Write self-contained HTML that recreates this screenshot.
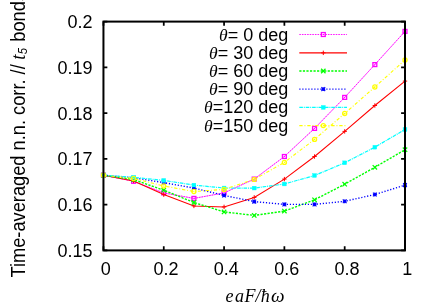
<!DOCTYPE html>
<html><head><meta charset="utf-8"><title>plot</title>
<style>html,body{margin:0;padding:0;background:#fff;overflow:hidden}svg{display:block;will-change:transform}text{font-family:"Liberation Sans",sans-serif;fill:#000}.sit{font-style:italic}.it{font-family:"Liberation Serif",serif;font-style:italic}</style></head><body>
<svg width="436" height="305" viewBox="0 0 436 305">
<rect width="436" height="305" fill="#fff"/>
<polyline points="103.45,175.20 133.61,181.30 163.76,192.90 193.92,198.40 224.07,192.90 254.23,179.10 284.38,156.50 314.54,128.40 344.69,97.40 374.85,64.60 405.00,31.40" fill="none" stroke="#ff00ff" stroke-width="0.9" stroke-opacity="0.4"/>
<polyline points="103.45,175.20 133.61,181.30 163.76,192.90 193.92,198.40 224.07,192.90 254.23,179.10 284.38,156.50 314.54,128.40 344.69,97.40 374.85,64.60 405.00,31.40" fill="none" stroke="#ff00ff" stroke-width="0.9" stroke-dasharray="1.6 1.0"/>
<rect x="101.50" y="173.25" width="3.9" height="3.9" fill="none" stroke="#ff00ff" stroke-width="1.3"/><rect x="102.95" y="174.70" width="1" height="1" fill="#ff00ff"/>
<rect x="131.66" y="179.35" width="3.9" height="3.9" fill="none" stroke="#ff00ff" stroke-width="1.3"/><rect x="133.11" y="180.80" width="1" height="1" fill="#ff00ff"/>
<rect x="161.81" y="190.95" width="3.9" height="3.9" fill="none" stroke="#ff00ff" stroke-width="1.3"/><rect x="163.26" y="192.40" width="1" height="1" fill="#ff00ff"/>
<rect x="191.97" y="196.45" width="3.9" height="3.9" fill="none" stroke="#ff00ff" stroke-width="1.3"/><rect x="193.42" y="197.90" width="1" height="1" fill="#ff00ff"/>
<rect x="222.12" y="190.95" width="3.9" height="3.9" fill="none" stroke="#ff00ff" stroke-width="1.3"/><rect x="223.57" y="192.40" width="1" height="1" fill="#ff00ff"/>
<rect x="252.28" y="177.15" width="3.9" height="3.9" fill="none" stroke="#ff00ff" stroke-width="1.3"/><rect x="253.73" y="178.60" width="1" height="1" fill="#ff00ff"/>
<rect x="282.43" y="154.55" width="3.9" height="3.9" fill="none" stroke="#ff00ff" stroke-width="1.3"/><rect x="283.88" y="156.00" width="1" height="1" fill="#ff00ff"/>
<rect x="312.59" y="126.45" width="3.9" height="3.9" fill="none" stroke="#ff00ff" stroke-width="1.3"/><rect x="314.04" y="127.90" width="1" height="1" fill="#ff00ff"/>
<rect x="342.74" y="95.45" width="3.9" height="3.9" fill="none" stroke="#ff00ff" stroke-width="1.3"/><rect x="344.19" y="96.90" width="1" height="1" fill="#ff00ff"/>
<rect x="372.90" y="62.65" width="3.9" height="3.9" fill="none" stroke="#ff00ff" stroke-width="1.3"/><rect x="374.35" y="64.10" width="1" height="1" fill="#ff00ff"/>
<rect x="403.05" y="29.45" width="3.9" height="3.9" fill="none" stroke="#ff00ff" stroke-width="1.3"/><rect x="404.50" y="30.90" width="1" height="1" fill="#ff00ff"/>
<polyline points="103.45,175.20 133.61,181.00 163.76,194.60 193.92,205.90 224.07,206.90 254.23,197.40 284.38,179.10 314.54,156.50 344.69,131.40 374.85,105.50 405.00,81.10" fill="none" stroke="#ff0000" stroke-width="1.05"/>
<path d="M101.25 175.20H105.65M103.45 173.00V177.40" stroke="#ff0000" stroke-width="1" fill="none"/>
<path d="M131.41 181.00H135.81M133.61 178.80V183.20" stroke="#ff0000" stroke-width="1" fill="none"/>
<path d="M161.56 194.60H165.96M163.76 192.40V196.80" stroke="#ff0000" stroke-width="1" fill="none"/>
<path d="M191.72 205.90H196.12M193.92 203.70V208.10" stroke="#ff0000" stroke-width="1" fill="none"/>
<path d="M221.87 206.90H226.27M224.07 204.70V209.10" stroke="#ff0000" stroke-width="1" fill="none"/>
<path d="M252.03 197.40H256.43M254.23 195.20V199.60" stroke="#ff0000" stroke-width="1" fill="none"/>
<path d="M282.18 179.10H286.58M284.38 176.90V181.30" stroke="#ff0000" stroke-width="1" fill="none"/>
<path d="M312.34 156.50H316.74M314.54 154.30V158.70" stroke="#ff0000" stroke-width="1" fill="none"/>
<path d="M342.49 131.40H346.89M344.69 129.20V133.60" stroke="#ff0000" stroke-width="1" fill="none"/>
<path d="M372.65 105.50H377.05M374.85 103.30V107.70" stroke="#ff0000" stroke-width="1" fill="none"/>
<path d="M402.80 81.10H407.20M405.00 78.90V83.30" stroke="#ff0000" stroke-width="1" fill="none"/>
<polyline points="103.45,175.20 133.61,179.60 163.76,190.20 193.92,202.50 224.07,211.90 254.23,215.40 284.38,211.10 314.54,199.80 344.69,184.20 374.85,167.30 405.00,149.70" fill="none" stroke="#00ff00" stroke-width="1.4" stroke-dasharray="2.2 1.35"/>
<path d="M101.25 173.00L105.65 177.40M101.25 177.40L105.65 173.00" stroke="#00ff00" stroke-width="1.25" fill="none"/>
<path d="M131.41 177.40L135.81 181.80M131.41 181.80L135.81 177.40" stroke="#00ff00" stroke-width="1.25" fill="none"/>
<path d="M161.56 188.00L165.96 192.40M161.56 192.40L165.96 188.00" stroke="#00ff00" stroke-width="1.25" fill="none"/>
<path d="M191.72 200.30L196.12 204.70M191.72 204.70L196.12 200.30" stroke="#00ff00" stroke-width="1.25" fill="none"/>
<path d="M221.87 209.70L226.27 214.10M221.87 214.10L226.27 209.70" stroke="#00ff00" stroke-width="1.25" fill="none"/>
<path d="M252.03 213.20L256.43 217.60M252.03 217.60L256.43 213.20" stroke="#00ff00" stroke-width="1.25" fill="none"/>
<path d="M282.18 208.90L286.58 213.30M282.18 213.30L286.58 208.90" stroke="#00ff00" stroke-width="1.25" fill="none"/>
<path d="M312.34 197.60L316.74 202.00M312.34 202.00L316.74 197.60" stroke="#00ff00" stroke-width="1.25" fill="none"/>
<path d="M342.49 182.00L346.89 186.40M342.49 186.40L346.89 182.00" stroke="#00ff00" stroke-width="1.25" fill="none"/>
<path d="M372.65 165.10L377.05 169.50M372.65 169.50L377.05 165.10" stroke="#00ff00" stroke-width="1.25" fill="none"/>
<path d="M402.80 147.50L407.20 151.90M402.80 151.90L407.20 147.50" stroke="#00ff00" stroke-width="1.25" fill="none"/>
<polyline points="103.45,175.20 133.61,177.80 163.76,182.60 193.92,188.10 224.07,195.40 254.23,201.60 284.38,204.40 314.54,204.40 344.69,201.30 374.85,194.50 405.00,185.10" fill="none" stroke="#0000ff" stroke-width="1.38" stroke-dasharray="1.2 1.8"/>
<path d="M101.55 173.30L105.35 177.10M101.55 177.10L105.35 173.30M101.55 175.20H105.35M103.45 173.30V177.10" stroke="#0000ff" stroke-width="1.1" fill="none"/>
<path d="M131.71 175.90L135.51 179.70M131.71 179.70L135.51 175.90M131.71 177.80H135.51M133.61 175.90V179.70" stroke="#0000ff" stroke-width="1.1" fill="none"/>
<path d="M161.86 180.70L165.66 184.50M161.86 184.50L165.66 180.70M161.86 182.60H165.66M163.76 180.70V184.50" stroke="#0000ff" stroke-width="1.1" fill="none"/>
<path d="M192.02 186.20L195.82 190.00M192.02 190.00L195.82 186.20M192.02 188.10H195.82M193.92 186.20V190.00" stroke="#0000ff" stroke-width="1.1" fill="none"/>
<path d="M222.17 193.50L225.97 197.30M222.17 197.30L225.97 193.50M222.17 195.40H225.97M224.07 193.50V197.30" stroke="#0000ff" stroke-width="1.1" fill="none"/>
<path d="M252.33 199.70L256.12 203.50M252.33 203.50L256.12 199.70M252.33 201.60H256.12M254.23 199.70V203.50" stroke="#0000ff" stroke-width="1.1" fill="none"/>
<path d="M282.48 202.50L286.28 206.30M282.48 206.30L286.28 202.50M282.48 204.40H286.28M284.38 202.50V206.30" stroke="#0000ff" stroke-width="1.1" fill="none"/>
<path d="M312.64 202.50L316.44 206.30M312.64 206.30L316.44 202.50M312.64 204.40H316.44M314.54 202.50V206.30" stroke="#0000ff" stroke-width="1.1" fill="none"/>
<path d="M342.79 199.40L346.59 203.20M342.79 203.20L346.59 199.40M342.79 201.30H346.59M344.69 199.40V203.20" stroke="#0000ff" stroke-width="1.1" fill="none"/>
<path d="M372.95 192.60L376.75 196.40M372.95 196.40L376.75 192.60M372.95 194.50H376.75M374.85 192.60V196.40" stroke="#0000ff" stroke-width="1.1" fill="none"/>
<path d="M403.10 183.20L406.90 187.00M403.10 187.00L406.90 183.20M403.10 185.10H406.90M405.00 183.20V187.00" stroke="#0000ff" stroke-width="1.1" fill="none"/>
<polyline points="103.45,175.20 133.61,177.30 163.76,180.40 193.92,185.10 224.07,188.00 254.23,188.10 284.38,184.00 314.54,175.50 344.69,162.80 374.85,147.20 405.00,129.50" fill="none" stroke="#00ffff" stroke-width="1.2" stroke-dasharray="3.6 0.9 1 0.9"/>
<rect x="101.55" y="173.30" width="3.8" height="3.8" fill="#00ffff" stroke="#00ffff" stroke-width="0.4"/>
<rect x="131.71" y="175.40" width="3.8" height="3.8" fill="#00ffff" stroke="#00ffff" stroke-width="0.4"/>
<rect x="161.86" y="178.50" width="3.8" height="3.8" fill="#00ffff" stroke="#00ffff" stroke-width="0.4"/>
<rect x="192.02" y="183.20" width="3.8" height="3.8" fill="#00ffff" stroke="#00ffff" stroke-width="0.4"/>
<rect x="222.17" y="186.10" width="3.8" height="3.8" fill="#00ffff" stroke="#00ffff" stroke-width="0.4"/>
<rect x="252.33" y="186.20" width="3.8" height="3.8" fill="#00ffff" stroke="#00ffff" stroke-width="0.4"/>
<rect x="282.48" y="182.10" width="3.8" height="3.8" fill="#00ffff" stroke="#00ffff" stroke-width="0.4"/>
<rect x="312.64" y="173.60" width="3.8" height="3.8" fill="#00ffff" stroke="#00ffff" stroke-width="0.4"/>
<rect x="342.79" y="160.90" width="3.8" height="3.8" fill="#00ffff" stroke="#00ffff" stroke-width="0.4"/>
<rect x="372.95" y="145.30" width="3.8" height="3.8" fill="#00ffff" stroke="#00ffff" stroke-width="0.4"/>
<rect x="403.10" y="127.60" width="3.8" height="3.8" fill="#00ffff" stroke="#00ffff" stroke-width="0.4"/>
<polyline points="103.45,175.20 133.61,178.50 163.76,186.00 193.92,191.50 224.07,189.40 254.23,179.40 284.38,162.40 314.54,139.40 344.69,113.50 374.85,87.00 405.00,60.00" fill="none" stroke="#ffff00" stroke-width="1.1" stroke-dasharray="3.3 1.9 0.9 1.9"/>
<circle cx="103.45" cy="175.20" r="2.05" fill="none" stroke="#ffff00" stroke-width="1.3"/><circle cx="103.45" cy="175.20" r="0.6" fill="#ffff00"/>
<circle cx="133.61" cy="178.50" r="2.05" fill="none" stroke="#ffff00" stroke-width="1.3"/><circle cx="133.61" cy="178.50" r="0.6" fill="#ffff00"/>
<circle cx="163.76" cy="186.00" r="2.05" fill="none" stroke="#ffff00" stroke-width="1.3"/><circle cx="163.76" cy="186.00" r="0.6" fill="#ffff00"/>
<circle cx="193.92" cy="191.50" r="2.05" fill="none" stroke="#ffff00" stroke-width="1.3"/><circle cx="193.92" cy="191.50" r="0.6" fill="#ffff00"/>
<circle cx="224.07" cy="189.40" r="2.05" fill="none" stroke="#ffff00" stroke-width="1.3"/><circle cx="224.07" cy="189.40" r="0.6" fill="#ffff00"/>
<circle cx="254.23" cy="179.40" r="2.05" fill="none" stroke="#ffff00" stroke-width="1.3"/><circle cx="254.23" cy="179.40" r="0.6" fill="#ffff00"/>
<circle cx="284.38" cy="162.40" r="2.05" fill="none" stroke="#ffff00" stroke-width="1.3"/><circle cx="284.38" cy="162.40" r="0.6" fill="#ffff00"/>
<circle cx="314.54" cy="139.40" r="2.05" fill="none" stroke="#ffff00" stroke-width="1.3"/><circle cx="314.54" cy="139.40" r="0.6" fill="#ffff00"/>
<circle cx="344.69" cy="113.50" r="2.05" fill="none" stroke="#ffff00" stroke-width="1.3"/><circle cx="344.69" cy="113.50" r="0.6" fill="#ffff00"/>
<circle cx="374.85" cy="87.00" r="2.05" fill="none" stroke="#ffff00" stroke-width="1.3"/><circle cx="374.85" cy="87.00" r="0.6" fill="#ffff00"/>
<circle cx="405.00" cy="60.00" r="2.05" fill="none" stroke="#ffff00" stroke-width="1.3"/><circle cx="405.00" cy="60.00" r="0.6" fill="#ffff00"/>
<path d="M299.3 34.5H347" fill="none" stroke="#ff00ff" stroke-width="0.9" stroke-dasharray="1.6 1.0"/>
<rect x="321.35" y="32.55" width="3.9" height="3.9" fill="none" stroke="#ff00ff" stroke-width="1.3"/><rect x="322.80" y="34.00" width="1" height="1" fill="#ff00ff"/>
<text transform="translate(288.3 40.50) scale(1.0 1)" font-size="18" text-anchor="end"><tspan class="it" font-size="17.6">θ</tspan>=&#160;0&#160;deg</text>
<path d="M299.3 52.85H347" fill="none" stroke="#ff0000" stroke-width="1.05"/>
<path d="M321.10 52.85H325.50M323.30 50.65V55.05" stroke="#ff0000" stroke-width="1" fill="none"/>
<text transform="translate(288.3 58.85) scale(1.0 1)" font-size="18" text-anchor="end"><tspan class="it" font-size="17.6">θ</tspan>=&#160;30&#160;deg</text>
<path d="M299.3 71.0H347" fill="none" stroke="#00ff00" stroke-width="1.4" stroke-dasharray="2.2 1.35"/>
<path d="M321.10 68.80L325.50 73.20M321.10 73.20L325.50 68.80" stroke="#00ff00" stroke-width="1.25" fill="none"/>
<text transform="translate(288.3 77.00) scale(1.0 1)" font-size="18" text-anchor="end"><tspan class="it" font-size="17.6">θ</tspan>=&#160;60&#160;deg</text>
<path d="M299.3 89.1H347" fill="none" stroke="#0000ff" stroke-width="1.38" stroke-dasharray="1.2 1.8"/>
<path d="M321.40 87.20L325.20 91.00M321.40 91.00L325.20 87.20M321.40 89.10H325.20M323.30 87.20V91.00" stroke="#0000ff" stroke-width="1.1" fill="none"/>
<text transform="translate(288.3 95.10) scale(1.0 1)" font-size="18" text-anchor="end"><tspan class="it" font-size="17.6">θ</tspan>=&#160;90&#160;deg</text>
<path d="M299.3 107.4H347" fill="none" stroke="#00ffff" stroke-width="1.2" stroke-dasharray="3.6 0.9 1 0.9"/>
<rect x="321.40" y="105.50" width="3.8" height="3.8" fill="#00ffff" stroke="#00ffff" stroke-width="0.4"/>
<text transform="translate(288.3 113.40) scale(1.0 1)" font-size="18" text-anchor="end"><tspan class="it" font-size="17.6">θ</tspan>=120&#160;deg</text>
<path d="M299.3 125.6H347" fill="none" stroke="#ffff00" stroke-width="1.1" stroke-dasharray="3.3 1.9 0.9 1.9"/>
<circle cx="323.30" cy="125.60" r="2.05" fill="none" stroke="#ffff00" stroke-width="1.3"/><circle cx="323.30" cy="125.60" r="0.6" fill="#ffff00"/>
<text transform="translate(288.3 131.60) scale(1.0 1)" font-size="18" text-anchor="end"><tspan class="it" font-size="17.6">θ</tspan>=150&#160;deg</text>
<rect x="103.45" y="21.6" width="301.55" height="228.8" fill="none" stroke="#000" stroke-width="2"/>
<path d="M103.45 250.40h3.9M405.0 250.40h-3.9M103.45 204.64h3.9M405.0 204.64h-3.9M103.45 158.88h3.9M405.0 158.88h-3.9M103.45 113.12h3.9M405.0 113.12h-3.9M103.45 67.36h3.9M405.0 67.36h-3.9M103.45 21.60h3.9M405.0 21.60h-3.9M103.45 250.4v-4.1M103.45 21.6v4.1M163.76 250.4v-4.1M163.76 21.6v4.1M224.07 250.4v-4.1M224.07 21.6v4.1M284.38 250.4v-4.1M284.38 21.6v4.1M344.69 250.4v-4.1M344.69 21.6v4.1M405.00 250.4v-4.1M405.00 21.6v4.1" stroke="#000" stroke-width="1.75" fill="none"/>
<text transform="translate(92.55 256.80) scale(1.0 1)" font-size="18" text-anchor="end">0.15</text>
<text transform="translate(92.55 211.04) scale(1.0 1)" font-size="18" text-anchor="end">0.16</text>
<text transform="translate(92.55 165.28) scale(1.0 1)" font-size="18" text-anchor="end">0.17</text>
<text transform="translate(92.55 119.52) scale(1.0 1)" font-size="18" text-anchor="end">0.18</text>
<text transform="translate(92.55 73.76) scale(1.0 1)" font-size="18" text-anchor="end">0.19</text>
<text transform="translate(92.55 28.00) scale(1.0 1)" font-size="18" text-anchor="end">0.2</text>
<text transform="translate(105.75 274.9) scale(1.0 1)" font-size="18" text-anchor="middle">0</text>
<text transform="translate(166.06 274.9) scale(1.0 1)" font-size="18" text-anchor="middle">0.2</text>
<text transform="translate(226.37 274.9) scale(1.0 1)" font-size="18" text-anchor="middle">0.4</text>
<text transform="translate(286.68 274.9) scale(1.0 1)" font-size="18" text-anchor="middle">0.6</text>
<text transform="translate(346.99 274.9) scale(1.0 1)" font-size="18" text-anchor="middle">0.8</text>
<text transform="translate(407.30 274.9) scale(1.0 1)" font-size="18" text-anchor="middle">1</text>
<text class="it" x="225.5 235.0 244.6 255.5 260.7" y="301.8" font-size="18">eaF/ħ</text>
<text class="it" x="270.9" y="301.8" font-size="19.2">ω</text>
<text transform="translate(24.8 277.5) scale(1.11 1.014) rotate(-90)" font-size="18">Time-averaged n.n. corr. //</text>
<text class="it" transform="translate(24.8 59.7) scale(1.11 1.014) rotate(-90)" font-size="18.6">t</text>
<text class="sit" transform="translate(27.4 54.2) scale(1.11 1.014) rotate(-90)" font-size="11.2">5</text>
<text transform="translate(24.8 41.7) scale(1.11 1.014) rotate(-90)" font-size="18">bonds</text>
</svg></body></html>
